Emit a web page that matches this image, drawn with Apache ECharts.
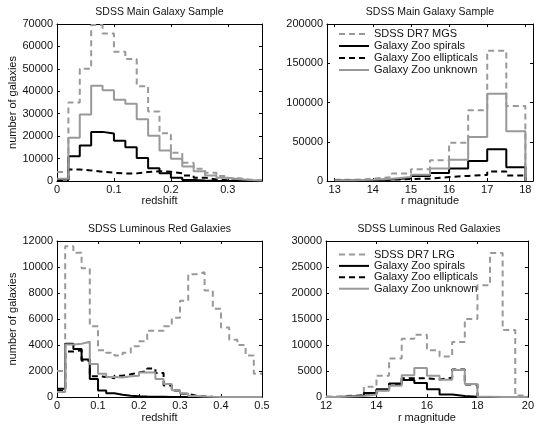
<!DOCTYPE html>
<html><head><meta charset="utf-8">
<script src="https://cdn.jsdelivr.net/npm/echarts@6/dist/echarts.min.js"></script>
<style>html,body{margin:0;padding:0;background:#fff}#c{width:537px;height:424px}</style>
</head><body><div id="c"></div>
<script>
// ---- Panel 1: SDSS Main Galaxy Sample vs redshift ----
const mgsZEdges = [0,0.02,0.04,0.06,0.08,0.1,0.12,0.14,0.16,0.18,0.2,0.22,0.24,0.26,0.28,0.3,0.32,0.34,0.36];
const mgsZDR7 = [4000,35000,50000,69500,65800,57600,54400,42300,31000,21300,12600,8100,5500,3700,2200,1200,600,300];
const mgsZSpiral = [700,11000,15800,21900,21200,17900,15000,10300,5700,3500,1400,500,200,100,50,20,10,0];
const mgsZEllip = [400,5100,4700,4100,3700,3300,3400,4000,4400,4100,3400,2500,1500,700,300,150,50,20];
const mgsZUnknown = [1000,19300,29600,42500,40500,36200,34400,27500,20200,13600,9900,6500,4300,2500,1500,800,400,200];
const mgsZTicks = [0,0.1,0.2,0.3];

// ---- Panel 2: SDSS Main Galaxy Sample vs r magnitude ----
const mgsMagEdges = [13,13.5,14,14.5,15,15.5,16,16.5,17,17.5,18];
const mgsMagDR7 = [1500,3000,5000,9400,15000,26500,48600,90000,166000,95500];
const mgsMagSpiral = [500,1000,2000,3800,6400,10300,15800,25500,40500,17500];
const mgsMagEllip = [400,1000,1700,2500,3000,5000,6500,7800,12000,7000];
const mgsMagUnknown = [800,1500,3000,5000,8000,15800,27000,56000,111000,63500];
const mgsMagTicks = [13,14,15,16,17,18];

// ---- Panel 3: SDSS Luminous Red Galaxies vs redshift ----
const lrgZEdges = [0,0.02,0.04,0.06,0.08,0.1,0.12,0.14,0.16,0.18,0.2,0.22,0.24,0.26,0.28,0.3,0.32,0.34,0.36,0.38,0.4,0.42,0.44,0.46,0.48,0.5];
const lrgZDR7 = [2000,11600,11100,9900,5450,3600,3400,3200,3400,3900,4300,5100,5100,5450,6100,7400,9450,9600,8200,6800,5350,4400,4000,3200,1800];
const lrgZSpiral = [650,4100,3700,2900,1400,500,300,180,100,60,40,30,20,10,10,5,0,0,0,0,0,0,0,0,0];
const lrgZEllip = [500,3500,3600,2800,1600,1550,1450,1650,1750,1900,2000,2200,1850,900,500,250,100,50,20,10,0,0,0,0,0];
const lrgZUnknown = [400,4050,4100,4250,2550,1800,1550,1500,1600,1650,1900,1900,1400,1000,530,280,80,40,20,10,10,5,5,5,5];
const lrgZTicks = [0,0.1,0.2,0.3,0.4,0.5];

// ---- Panel 4: SDSS Luminous Red Galaxies vs r magnitude ----
const lrgMagEdges = [12,12.5,13,13.5,14,14.5,15,15.5,16,16.5,17,17.5,18,18.5,19,19.5,20];
const lrgMagDR7 = [100,300,400,2000,4100,7400,11200,12000,9000,7800,10600,15000,21500,27700,12900,300];
const lrgMagSpiral = [20,100,300,800,1500,2600,3300,2700,1500,500,200,50,0,0,0,0];
const lrgMagEllip = [20,80,300,700,1300,2400,3600,3600,3400,3700,5300,2400,0,0,0,0];
const lrgMagUnknown = [20,100,200,500,1200,2200,4200,5600,4100,3350,5200,2500,50,20,10,0];
const lrgMagTicks = [12,14,16,18,20];

const FONT = 'Liberation Sans, Arial, Helvetica, sans-serif';
const GRAY = '#999999';
const INK = '#111111';

const grids = [
  {left:57, top:24, width:205, height:157},
  {left:327, top:24, width:206, height:157},
  {left:57, top:241, width:205, height:159},
  {left:326, top:241, width:206, height:159}
];

function stepPoints(edges, counts, drop) {
  const pts = counts.map((c, i) => [edges[i], c]);
  pts.push([edges[counts.length], counts[counts.length - 1]]);
  if (drop) pts.push([edges[counts.length], 0]);
  return pts;
}

const styles = {
  dr7: {color: GRAY, width: 2, type: [6, 4]},
  spiral: {color: '#000', width: 2, type: 'solid'},
  ellip: {color: '#000', width: 2, type: [6, 4]},
  unknown: {color: GRAY, width: 2, type: 'solid'}
};

function mkSeries(name, edges, counts, gi, st, drop) {
  return {
    type: 'line', name: name, xAxisIndex: 2 * gi, yAxisIndex: 2 * gi,
    data: stepPoints(edges, counts, drop), step: 'end',
    symbol: 'none', showSymbol: false, silent: true, animation: false,
    lineStyle: {color: st.color, width: st.width, type: st.type},
    itemStyle: {color: st.color}
  };
}

function xAxes(gi, min, max, ticks, name) {
  const common = {
    type: 'value', gridIndex: gi, min: min, max: max,
    axisLine: {show: true, onZero: false, lineStyle: {color: '#000', width: 1}},
    axisTick: {show: true, inside: true, length: 3, customValues: ticks, lineStyle: {color: '#000'}},
    splitLine: {show: false}
  };
  return [
    Object.assign({}, common, {
      position: 'bottom',
      axisLabel: {show: true, customValues: ticks, margin: 3, fontSize: 11, color: INK, fontFamily: FONT, formatter: v => String(v)},
      name: name, nameLocation: 'middle', nameGap: 14,
      nameTextStyle: {fontSize: 11, color: INK, fontFamily: FONT}
    }),
    Object.assign({}, common, {position: 'top', axisLabel: {show: false}})
  ];
}

function yAxes(gi, max, interval, name) {
  const common = {
    type: 'value', gridIndex: gi, min: 0, max: max, interval: interval,
    axisLine: {show: true, onZero: false, lineStyle: {color: '#000', width: 1}},
    axisTick: {show: true, inside: true, length: 3, lineStyle: {color: '#000'}},
    splitLine: {show: false}
  };
  const left = Object.assign({}, common, {
    position: 'left',
    axisLabel: {show: true, margin: 4, fontSize: 11, color: INK, fontFamily: FONT, formatter: v => String(v)}
  });
  if (name) {
    left.name = name; left.nameLocation = 'middle'; left.nameGap = 37;
    left.nameTextStyle = {fontSize: 11, color: INK, fontFamily: FONT};
  }
  return [left, Object.assign({}, common, {position: 'right', axisLabel: {show: false}})];
}

const xAxis = [].concat(
  xAxes(0, 0, 0.36, mgsZTicks, 'redshift'),
  xAxes(1, 12.8, 18.2, mgsMagTicks, 'r magnitude'),
  xAxes(2, 0, 0.5, lrgZTicks, 'redshift'),
  xAxes(3, 12, 20, lrgMagTicks, 'r magnitude')
);
const yAxis = [].concat(
  yAxes(0, 70000, 10000, 'number of galaxies'),
  yAxes(1, 200000, 50000, ''),
  yAxes(2, 12000, 2000, 'number of galaxies'),
  yAxes(3, 30000, 5000, '')
);

const series = [
  mkSeries('SDSS DR7 MGS', mgsZEdges, mgsZDR7, 0, styles.dr7, false),
  mkSeries('Galaxy Zoo spirals', mgsZEdges, mgsZSpiral, 0, styles.spiral, false),
  mkSeries('Galaxy Zoo ellipticals', mgsZEdges, mgsZEllip, 0, styles.ellip, false),
  mkSeries('Galaxy Zoo unknown', mgsZEdges, mgsZUnknown, 0, styles.unknown, false),

  mkSeries('SDSS DR7 MGS', mgsMagEdges, mgsMagDR7, 1, styles.dr7, true),
  mkSeries('Galaxy Zoo spirals', mgsMagEdges, mgsMagSpiral, 1, styles.spiral, true),
  mkSeries('Galaxy Zoo ellipticals', mgsMagEdges, mgsMagEllip, 1, styles.ellip, true),
  mkSeries('Galaxy Zoo unknown', mgsMagEdges, mgsMagUnknown, 1, styles.unknown, true),

  mkSeries('SDSS DR7 LRG', lrgZEdges, lrgZDR7, 2, styles.dr7, false),
  mkSeries('Galaxy Zoo spirals', lrgZEdges, lrgZSpiral, 2, styles.spiral, false),
  mkSeries('Galaxy Zoo ellipticals', lrgZEdges, lrgZEllip, 2, styles.ellip, false),
  mkSeries('Galaxy Zoo unknown', lrgZEdges, lrgZUnknown, 2, styles.unknown, false),

  mkSeries('SDSS DR7 LRG', lrgMagEdges, lrgMagDR7, 3, styles.dr7, false),
  mkSeries('Galaxy Zoo spirals', lrgMagEdges, lrgMagSpiral, 3, styles.spiral, false),
  mkSeries('Galaxy Zoo ellipticals', lrgMagEdges, lrgMagEllip, 3, styles.ellip, false),
  mkSeries('Galaxy Zoo unknown', lrgMagEdges, lrgMagUnknown, 3, styles.unknown, false)
];

function mkLegend(names, top, gap) {
  return {
    data: names, left: 338, top: top, orient: 'vertical', padding: 0,
    itemWidth: 30, itemHeight: 13, itemGap: gap, selectedMode: false,
    itemStyle: {opacity: 0, borderWidth: 0},
    textStyle: {fontSize: 11, color: INK, fontFamily: FONT, padding: [0, 0, 0, 0]}
  };
}

function mkTitle(text, cx, top) {
  return {text: text, left: cx, top: top, textAlign: 'center', padding: 0,
    textStyle: {fontSize: 10.5, fontWeight: 'normal', color: INK, fontFamily: FONT}};
}

const chart = echarts.init(document.getElementById('c'), null, {renderer: 'canvas'});
chart.setOption({
  animation: false,
  backgroundColor: '#fff',
  title: [
    mkTitle('SDSS Main Galaxy Sample', 159.5, 7),
    mkTitle('SDSS Main Galaxy Sample', 430, 7),
    mkTitle('SDSS Luminous Red Galaxies', 159.5, 224),
    mkTitle('SDSS Luminous Red Galaxies', 429, 224)
  ],
  legend: [
    mkLegend(['SDSS DR7 MGS', 'Galaxy Zoo spirals', 'Galaxy Zoo ellipticals', 'Galaxy Zoo unknown'], 28.5, 1),
    mkLegend(['SDSS DR7 LRG', 'Galaxy Zoo spirals', 'Galaxy Zoo ellipticals', 'Galaxy Zoo unknown'], 249, 0.4)
  ],
  grid: grids,
  xAxis: xAxis,
  yAxis: yAxis,
  series: series
});
</script>
</body></html>
